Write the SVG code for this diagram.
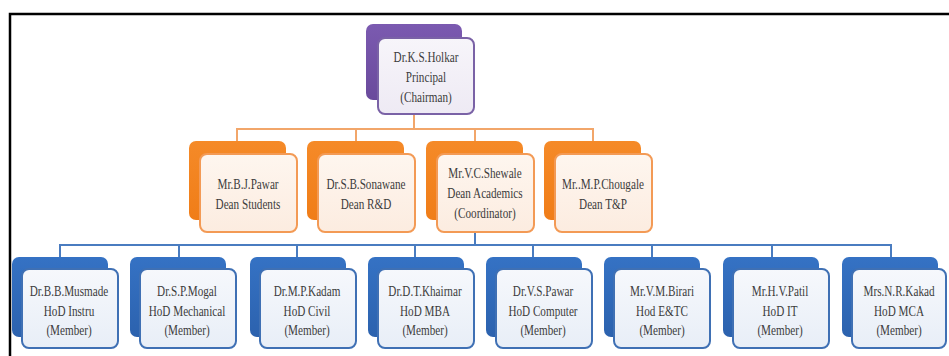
<svg xmlns="http://www.w3.org/2000/svg" width="949" height="356" viewBox="0 0 949 356">
<defs>
<linearGradient id="gP" x1="0" y1="0" x2="0" y2="1"><stop offset="0" stop-color="#7b5ab0"/><stop offset="1" stop-color="#6a4a9c"/></linearGradient>
<linearGradient id="gO" x1="0" y1="0" x2="0" y2="1"><stop offset="0" stop-color="#f58a28"/><stop offset="1" stop-color="#f07d18"/></linearGradient>
<linearGradient id="gB" x1="0" y1="0" x2="0" y2="1"><stop offset="0" stop-color="#3572c4"/><stop offset="1" stop-color="#2c62ae"/></linearGradient>
<linearGradient id="fP" x1="0" y1="0" x2="0" y2="1"><stop offset="0" stop-color="#f7f5fa"/><stop offset="1" stop-color="#eeeaf4"/></linearGradient>
<linearGradient id="fO" x1="0" y1="0" x2="0" y2="1"><stop offset="0" stop-color="#fef6ef"/><stop offset="1" stop-color="#fcece0"/></linearGradient>
<linearGradient id="fB" x1="0" y1="0" x2="0" y2="1"><stop offset="0" stop-color="#f6f8fc"/><stop offset="1" stop-color="#e8eef7"/></linearGradient>
</defs>
<style>
.t{font-family:"Liberation Serif","Times New Roman",serif;font-size:14.5px;fill:#3c3c3c;text-anchor:middle}
.bp{fill:url(#gP)}
.bo{fill:url(#gO)}
.bb{fill:url(#gB)}
.fp{fill:url(#fP);stroke:#7a62a6;stroke-width:2}
.fo{fill:url(#fO);stroke:#f39a55;stroke-width:2}
.fb{fill:url(#fB);stroke:#3f70b4;stroke-width:2}
.co{fill:none;stroke:#f2a66a;stroke-width:2}
.cb{fill:none;stroke:#4a7cc0;stroke-width:2}
</style>
<rect width="949" height="356" fill="#ffffff"/>
<path d="M10,356 V14 H949" fill="none" stroke="#000" stroke-width="2.5"/>

<g id="connectors">
<path class="co" d="M414,100 V129 M237,141 V129 H593 V141 M356,129 V141 M475,129 V141"/>
<path class="cb" d="M475,220 V245 M60,257 V245 H891 V257 M179,245 V257 M297,245 V257 M415,245 V257 M533,245 V257 M652,245 V257 M772,245 V257"/>
</g>

<g id="holkar">
<rect class="bp" x="366" y="24" width="96" height="76" rx="7"/>
<rect class="fp" x="378" y="38" width="96" height="76" rx="7"/>
<g transform="translate(426 0) scale(0.77 1)">
<text class="t" x="0" y="62">Dr.K.S.Holkar</text>
<text class="t" x="0" y="82">Principal</text>
<text class="t" x="0" y="102">(Chairman)</text>
</g>
</g>

<g id="pawar_bj">
<rect class="bo" x="189" y="141" width="97" height="79" rx="7"/>
<rect class="fo" x="200" y="154" width="97" height="78" rx="7"/>
<g transform="translate(248 0) scale(0.77 1)">
<text class="t" x="0" y="189">Mr.B.J.Pawar</text>
<text class="t" x="0" y="209">Dean Students</text>
</g>
</g>
<g id="sonawane">
<rect class="bo" x="307" y="141" width="97" height="79" rx="7"/>
<rect class="fo" x="318" y="154" width="97" height="78" rx="7"/>
<g transform="translate(366 0) scale(0.77 1)">
<text class="t" x="0" y="189">Dr.S.B.Sonawane</text>
<text class="t" x="0" y="209">Dean R&amp;D</text>
</g>
</g>
<g id="shewale">
<rect class="bo" x="426" y="141" width="97" height="79" rx="7"/>
<rect class="fo" x="437" y="154" width="97" height="78" rx="7"/>
<g transform="translate(485 0) scale(0.77 1)">
<text class="t" x="0" y="178">Mr.V.C.Shewale</text>
<text class="t" x="0" y="198">Dean Academics</text>
<text class="t" x="0" y="218">(Coordinator)</text>
</g>
</g>
<g id="chougale">
<rect class="bo" x="544" y="141" width="97" height="79" rx="7"/>
<rect class="fo" x="555" y="154" width="97" height="78" rx="7"/>
<g transform="translate(603 0) scale(0.77 1)">
<text class="t" x="0" y="189">Mr..M.P.Chougale</text>
<text class="t" x="0" y="209">Dean T&amp;P</text>
</g>
</g>

<g id="musmade">
<rect class="bb" x="12" y="257" width="96" height="80" rx="7"/>
<rect class="fb" x="22" y="269" width="96" height="79" rx="7"/>
<g transform="translate(69 0) scale(0.77 1)">
<text class="t" x="0" y="296">Dr.B.B.Musmade</text>
<text class="t" x="0" y="316">HoD Instru</text>
<text class="t" x="0" y="335">(Member)</text>
</g>
</g>
<g id="mogal">
<rect class="bb" x="130" y="257" width="96" height="80" rx="7"/>
<rect class="fb" x="140" y="269" width="96" height="79" rx="7"/>
<g transform="translate(187 0) scale(0.77 1)">
<text class="t" x="0" y="296">Dr.S.P.Mogal</text>
<text class="t" x="0" y="316">HoD Mechanical</text>
<text class="t" x="0" y="335">(Member)</text>
</g>
</g>
<g id="kadam">
<rect class="bb" x="250" y="257" width="96" height="80" rx="7"/>
<rect class="fb" x="260" y="269" width="96" height="79" rx="7"/>
<g transform="translate(307 0) scale(0.77 1)">
<text class="t" x="0" y="296">Dr.M.P.Kadam</text>
<text class="t" x="0" y="316">HoD Civil</text>
<text class="t" x="0" y="335">(Member)</text>
</g>
</g>
<g id="khairnar">
<rect class="bb" x="368" y="257" width="96" height="80" rx="7"/>
<rect class="fb" x="378" y="269" width="96" height="79" rx="7"/>
<g transform="translate(425 0) scale(0.77 1)">
<text class="t" x="0" y="296">Dr.D.T.Khairnar</text>
<text class="t" x="0" y="316">HoD MBA</text>
<text class="t" x="0" y="335">(Member)</text>
</g>
</g>
<g id="pawar_vs">
<rect class="bb" x="486" y="257" width="96" height="80" rx="7"/>
<rect class="fb" x="496" y="269" width="96" height="79" rx="7"/>
<g transform="translate(543 0) scale(0.77 1)">
<text class="t" x="0" y="296">Dr.V.S.Pawar</text>
<text class="t" x="0" y="316">HoD Computer</text>
<text class="t" x="0" y="335">(Member)</text>
</g>
</g>
<g id="birari">
<rect class="bb" x="604" y="257" width="96" height="80" rx="7"/>
<rect class="fb" x="614" y="269" width="96" height="79" rx="7"/>
<g transform="translate(662 0) scale(0.77 1)">
<text class="t" x="0" y="296">Mr.V.M.Birari</text>
<text class="t" x="0" y="316">Hod E&amp;TC</text>
<text class="t" x="0" y="335">(Member)</text>
</g>
</g>
<g id="patil">
<rect class="bb" x="723" y="257" width="96" height="80" rx="7"/>
<rect class="fb" x="733" y="269" width="96" height="79" rx="7"/>
<g transform="translate(780 0) scale(0.77 1)">
<text class="t" x="0" y="296">Mr.H.V.Patil</text>
<text class="t" x="0" y="316">HoD IT</text>
<text class="t" x="0" y="335">(Member)</text>
</g>
</g>
<g id="kakad">
<rect class="bb" x="842" y="257" width="96" height="80" rx="7"/>
<rect class="fb" x="852" y="269" width="94" height="79" rx="7"/>
<g transform="translate(899 0) scale(0.77 1)">
<text class="t" x="0" y="296">Mrs.N.R.Kakad</text>
<text class="t" x="0" y="316">HoD MCA</text>
<text class="t" x="0" y="335">(Member)</text>
</g>
</g>
</svg>
